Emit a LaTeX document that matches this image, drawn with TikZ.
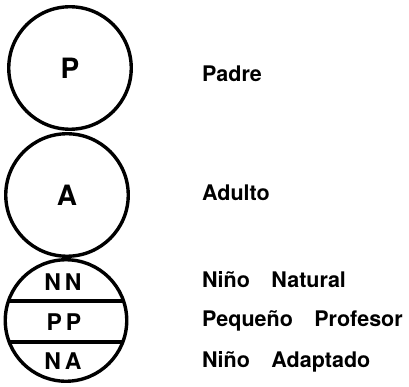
\documentclass[tikz,border=0pt]{standalone}
\usepackage{fontspec}
\setmainfont{TeX Gyre Heros}
\usetikzlibrary{positioning}
\begin{document}
\begin{tikzpicture}[x=1pt,y=-1pt]
	\tikzstyle{estado}=[circle, draw, line width=3.4pt, inner sep=0pt, outer sep=0pt, font=\fontsize{28}{28}\selectfont\bfseries]
	\tikzstyle{etiqueta}=[anchor=west, inner sep=0pt, font=\fontsize{21.5}{21.5}\selectfont\bfseries]
	\tikzstyle{parte}=[inner sep=0pt, font=\fontsize{23}{23}\selectfont\bfseries]
	\useasboundingbox (0,0) rectangle (409,387);
	\node [estado, minimum size=122.5pt] (P) at (70,68) {P};
	\node [estado, minimum size=122.5pt] (A) at (67,195) {A};
	\node [estado, minimum size=121.5pt] (N) at (66,320.5) {};
	\node [parte] (nn) at (63,282) {N\,N};
	\node [parte] (pp) at (64,322) {P\,P};
	\node [parte] (na) at (63,361) {N\,A};
	\begin{scope}
	\clip (N.center) circle (60.75);
	\draw [line width=3.2pt] ([yshift=19.5pt]N.west) -- ([yshift=19.5pt]N.east);
	\draw [line width=3.2pt] ([yshift=-21.5pt]N.west) -- ([yshift=-21.5pt]N.east);
	\end{scope}
	\node [etiqueta] (padre) at (202,74) {Padre};
	\node [etiqueta] (adulto) at (202,193) {Adulto};
	\node [etiqueta] (natural) at (202,280) {Niño\hspace{1em}Natural};
	\node [etiqueta] (profesor) at (202,321) {Pequeño\hspace{1em}Profesor};
	\node [etiqueta] (adaptado) at (202,362) {Niño\hspace{1em}Adaptado};
\end{tikzpicture}
\end{document}
